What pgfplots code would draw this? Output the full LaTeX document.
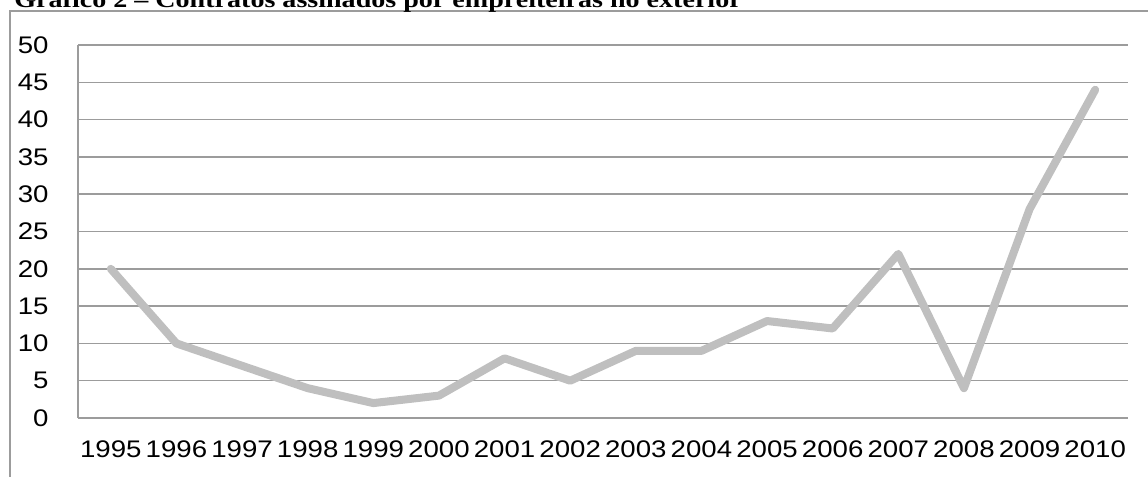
\documentclass[border=0pt]{standalone}
\usepackage{fontspec}
\setmainfont{Liberation Sans}[FakeStretch=1.15]
\newfontfamily\titlefont{Liberation Serif}[FakeStretch=1.22]
\usepackage{pgfplots}
\pgfplotsset{compat=1.18}
\definecolor{linegray}{HTML}{BFBFBF}
\definecolor{gridgray}{HTML}{9C9C9C}
\begin{document}
\begin{tikzpicture}
\useasboundingbox (0pt,0pt) rectangle (574pt,-238.5pt);
\clip (0pt,0pt) rectangle (574pt,-238.5pt);
\draw[gridgray, line width=0.75pt] (5pt,-260pt) -- (5pt,-5.5pt) -- (600pt,-5.5pt);
\node[anchor=base west, inner sep=0pt, font=\titlefont\bfseries\fontsize{11.5}{13}\selectfont] at (7pt,-3.75pt) {Gráfico 2 – Contratos assinados por empreiteiras no exterior};
\begin{axis}[
  at={(39pt,-209pt)}, anchor=south west,
  scale only axis, width=525pt, height=186.5pt,
  xmin=-0.5, xmax=15.5, ymin=0, ymax=50,
  xtick={0,...,15},
  xticklabels={1995,1996,1997,1998,1999,2000,2001,2002,2003,2004,2005,2006,2007,2008,2009,2010},
  ytick={0,5,...,50},
  axis x line*=bottom, axis y line*=left,
  axis line style={gridgray, line width=0.75pt, -},
  major tick length=0pt,
  ymajorgrids, grid style={gridgray, line width=0.75pt},
  /pgf/number format/assume math mode=true,
  tick label style={font=\fontsize{12}{14}\selectfont, inner sep=0pt},
  yticklabel style={anchor=east, xshift=-14.5pt},
  xticklabel style={anchor=north, yshift=-11pt},
  clip=false,
]
\addplot[linegray, line width=4pt, line join=round, line cap=round] coordinates {
(0,20) (1,10) (2,7) (3,4) (4,2) (5,3) (6,8) (7,5) (8,9) (9,9) (10,13) (11,12) (12,22) (13,4) (14,28) (15,44)
};
\end{axis}
\end{tikzpicture}
\end{document}
